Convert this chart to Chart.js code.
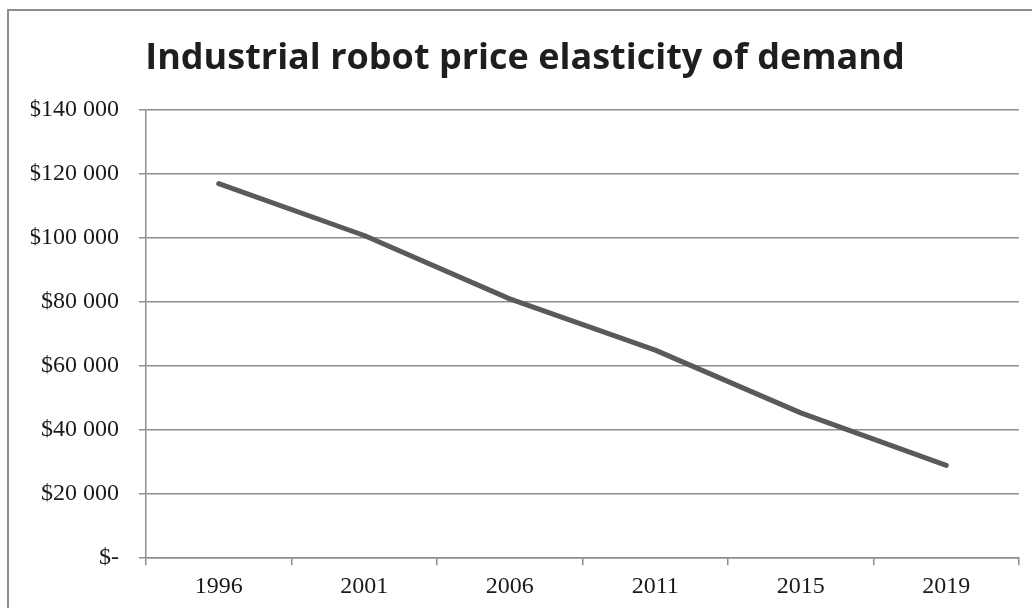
<!DOCTYPE html>
<html>
<head>
<meta charset="utf-8">
<title>Industrial robot price elasticity of demand</title>
<script src="https://cdn.jsdelivr.net/npm/chart.js@4"></script>
<style>
  html, body { margin: 0; padding: 0; background: #fff; overflow: hidden; }
  #wrap { position: relative; width: 1032px; height: 608px; }
  #frame {
    position: absolute; left: 7px; top: 9px; width: 1100px; height: 700px;
    border: 2px solid #8e8e8e;
  }
  #chart { position: absolute; left: 0; top: 0; }
</style>
</head>
<body>
<div id="wrap">
  <div id="frame"></div>
  <canvas id="chart" width="1032" height="608"></canvas>
</div>
<script>
// price per robot by year
const years = ["1996", "2001", "2006", "2011", "2015", "2019"];
const prices = [117000, 100800, 81000, 65000, 45400, 29000];
const yTicks = [0, 20000, 40000, 60000, 80000, 100000, 120000, 140000];

const gridGrey = "#8e8e8e";
const serif = "'Liberation Serif', 'Times New Roman', serif";

function formatPrice(v) {
  if (v === 0) return "$-";
  // space as thousands separator
  return "$" + String(v).replace(/\B(?=(\d{3})+(?!\d))/g, " ");
}

const ctx = document.getElementById("chart").getContext("2d");

new Chart(ctx, {
  type: "line",
  data: {
    labels: years,
    datasets: [
      {
        label: "Price",
        data: prices,
        borderColor: "#5a5a5a",
        borderWidth: 5,
        borderCapStyle: "round",
        borderJoinStyle: "round",
        tension: 0,
        pointRadius: 0,
        fill: false,
      },
    ],
  },
  options: {
    responsive: false,
    animation: false,
    layout: {
      padding: { left: 31, right: 13, top: 9, bottom: 0 },
    },
    plugins: {
      legend: { display: false },
      tooltip: { enabled: false },
      title: {
        display: true,
        text: "Industrial robot price elasticity of demand",
        color: "#1e1e1e",
        font: { family: "'Open Sans', sans-serif", size: 36, weight: "bold" },
        padding: { top: 28, bottom: 29.8 },
      },
    },
    scales: {
      x: {
        offset: true,
        grid: {
          offset: true,
          drawOnChartArea: false,
          drawTicks: true,
          tickLength: 7,
          color: gridGrey,
          lineWidth: 1.5,
        },
        border: { color: gridGrey, width: 1.5 },
        ticks: {
          padding: 7,
          color: "#1a1a1a",
          font: { family: serif, size: 24 },
        },
      },
      y: {
        min: 0,
        max: 140000,
        afterBuildTicks: (scale) => {
          scale.ticks = yTicks.map((v) => ({ value: v }));
        },
        afterFit: (scale) => {
          scale.width = 115;
        },
        grid: {
          color: gridGrey,
          lineWidth: 1.5,
          tickLength: 7,
        },
        border: { color: gridGrey, width: 1.5 },
        ticks: {
          padding: 20,
          color: "#1a1a1a",
          font: { family: serif, size: 24 },
          callback: (v) => formatPrice(v),
        },
      },
    },
  },
});
</script>
</body>
</html>
